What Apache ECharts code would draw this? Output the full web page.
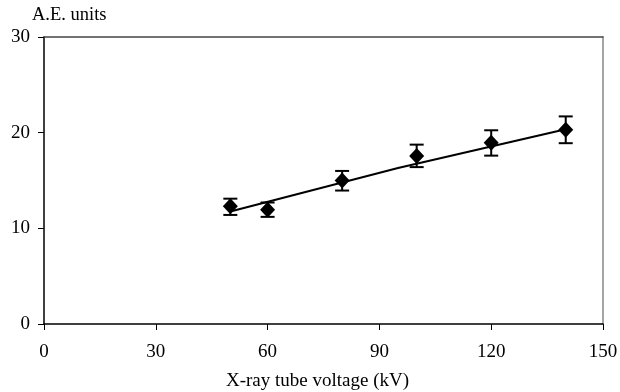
<!DOCTYPE html>
<html>
<head>
<meta charset="utf-8">
<script src="https://cdn.jsdelivr.net/npm/echarts@6/dist/echarts.min.js"></script>
<style>html,body{margin:0;padding:0;background:#fff}#c{width:620px;height:392px}</style>
</head>
<body>
<div id="c"></div>
<script>
const voltage = [50, 60, 80, 100, 120, 140];
const aeUnits = [12.3, 11.95, 15.0, 17.55, 18.95, 20.3];
const errLow  = [11.4, 11.2, 13.95, 16.4, 17.6, 18.9];
const errHigh = [13.1, 12.7, 16.0, 18.75, 20.25, 21.7];
const trendX = [50, 95, 140];
const trendY = [11.75, 16.3, 20.35];
const xTicks = [0, 30, 60, 90, 120, 150];
const yTicks = [0, 10, 20, 30];

const font = '"Liberation Serif", "Times New Roman", serif';
const chart = echarts.init(document.getElementById('c'), null, {renderer: 'canvas'});
chart.setOption({
  animation: false,
  backgroundColor: '#fff',
  grid: {left: 44, top: 37, right: 17, bottom: 68, containLabel: false, outerBoundsMode: 'none'},
  xAxis: [{
    type: 'value', min: xTicks[0], max: xTicks[xTicks.length - 1], interval: 30,
    name: 'X-ray tube voltage (kV)', nameLocation: 'middle', nameGap: 48,
    nameTextStyle: {fontFamily: font, fontSize: 19, color: '#000', padding: [0, 12, 0, 0]},
    axisLine: {show: true, lineStyle: {color: '#000', width: 1.5}},
    axisTick: {show: true, inside: false, length: 6, lineStyle: {color: '#000'}},
    axisLabel: {fontFamily: font, fontSize: 19, color: '#000', margin: 19},
    splitLine: {show: false}
  }, {
    type: 'value', position: 'top', min: 0, max: 150,
    axisLine: {show: true, onZero: false, lineStyle: {color: '#444', width: 1.5}},
    axisTick: {show: false}, axisLabel: {show: false}, splitLine: {show: false}
  }],
  yAxis: [{
    type: 'value', min: yTicks[0], max: yTicks[yTicks.length - 1], interval: 10,
    name: 'A.E. units', nameLocation: 'end', nameGap: 22,
    nameTextStyle: {fontFamily: font, fontSize: 18.5, color: '#000', align: 'left', verticalAlign: 'middle', padding: [0, 0, 0, -12]},
    axisLine: {show: true, lineStyle: {color: '#000', width: 1.5}},
    axisTick: {show: true, inside: false, length: 6, lineStyle: {color: '#000'}},
    axisLabel: {fontFamily: font, fontSize: 19, color: '#000', margin: 14},
    splitLine: {show: false}
  }, {
    type: 'value', position: 'right', min: 0, max: 30,
    axisLine: {show: true, onZero: false, lineStyle: {color: '#888', width: 1.5}},
    axisTick: {show: false}, axisLabel: {show: false}, splitLine: {show: false}
  }],
  series: [{
    type: 'line',
    data: trendX.map((x, i) => [x, trendY[i]]),
    showSymbol: false, symbol: 'none',
    lineStyle: {color: '#000', width: 2},
    z: 2
  }, {
    type: 'custom',
    data: voltage.map((x, i) => [x, errLow[i], errHigh[i]]),
    renderItem: function (params, api) {
      const lo = api.coord([api.value(0), api.value(1)]);
      const hi = api.coord([api.value(0), api.value(2)]);
      const hw = 7;
      const st = {stroke: '#000', lineWidth: 2};
      return {type: 'group', children: [
        {type: 'line', shape: {x1: lo[0], y1: lo[1], x2: hi[0], y2: hi[1]}, style: st},
        {type: 'line', shape: {x1: lo[0] - hw, y1: lo[1], x2: lo[0] + hw, y2: lo[1]}, style: st},
        {type: 'line', shape: {x1: hi[0] - hw, y1: hi[1], x2: hi[0] + hw, y2: hi[1]}, style: st}
      ]};
    },
    z: 3
  }, {
    type: 'scatter',
    data: voltage.map((x, i) => [x, aeUnits[i]]),
    symbol: 'diamond', symbolSize: [15, 16],
    itemStyle: {color: '#000', opacity: 1},
    z: 4
  }]
});
</script>
</body>
</html>
